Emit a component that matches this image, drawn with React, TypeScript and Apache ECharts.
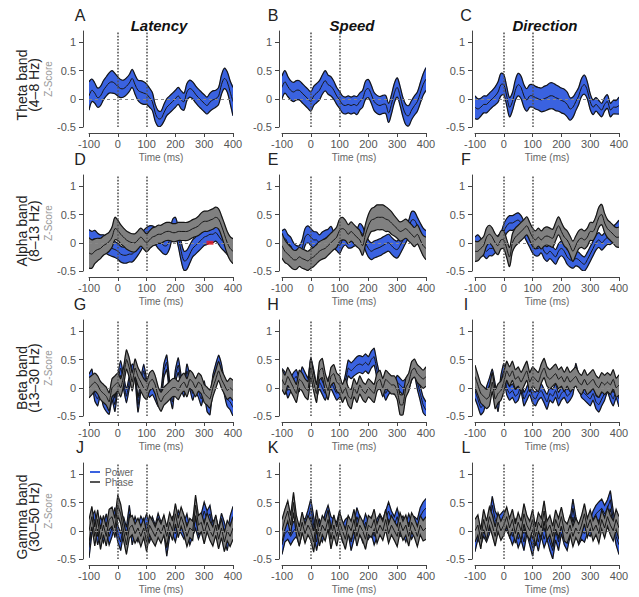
import React, { useEffect, useRef } from "react";
import * as echarts from "echarts";

// ---------- DATA ----------
const timesMs = [
  -100, -90, -80, -70, -60, -50, -40, -30, -20, -10,
  0, 10, 20, 30, 40, 50, 60, 70, 80, 90,
  100, 110, 120, 130, 140, 150, 160, 170, 180, 190,
  200, 210, 220, 230, 240, 250, 260, 270, 280, 290,
  300, 310, 320, 330, 340, 350, 360, 370, 380, 390,
  400,
];

// Theta band – power only
const thetaLatencyPowerMean = [
  0.05, 0.15, 0.1, 0.02, 0.05, 0.15, 0.22, 0.28, 0.3, 0.27,
  0.22, 0.18, 0.18, 0.22, 0.28, 0.36, 0.25, 0.15, 0.12, 0.1,
  0.08, 0.02, -0.05, -0.25, -0.35, -0.35, -0.25, -0.15, -0.1, -0.05,
  0.0, 0.05, -0.02, -0.05, 0.12, 0.18, 0.15, 0.08, 0.02, -0.03,
  -0.08, -0.12, -0.06, -0.02, 0.0, 0.05, 0.25, 0.36, 0.3, 0.12,
  -0.05,
];
const thetaLatencyPowerHalf = [
  0.25, 0.2, 0.18, 0.17, 0.17, 0.17, 0.17, 0.18, 0.2, 0.18,
  0.17, 0.16, 0.15, 0.15, 0.15, 0.16, 0.17, 0.18, 0.2, 0.2,
  0.18, 0.17, 0.16, 0.15, 0.14, 0.13, 0.15, 0.15, 0.15, 0.15,
  0.15, 0.15, 0.16, 0.15, 0.15, 0.15, 0.15, 0.15, 0.15, 0.15,
  0.15, 0.15, 0.16, 0.16, 0.15, 0.15, 0.17, 0.18, 0.18, 0.2,
  0.25,
];
const thetaSpeedPowerMean = [
  0.2, 0.3, 0.22, 0.15, 0.12, 0.15, 0.15, 0.1, 0.05, 0.0,
  -0.05, 0.05, 0.1, 0.15, 0.25, 0.32, 0.25, 0.22, 0.15, 0.05,
  -0.02, -0.1, -0.12, -0.1, -0.12, -0.1, -0.12, -0.05, 0.0, 0.15,
  0.18, 0.08, -0.05, -0.1, -0.12, -0.1, -0.1, -0.25, -0.1, 0.1,
  0.2, 0.05, -0.15, -0.28, -0.3, -0.2, -0.12, -0.05, 0.1, 0.25,
  0.35,
];
const thetaSpeedPowerHalf = [
  0.2, 0.2, 0.18, 0.17, 0.17, 0.17, 0.17, 0.17, 0.17, 0.17,
  0.17, 0.17, 0.17, 0.17, 0.17, 0.18, 0.17, 0.17, 0.16, 0.15,
  0.15, 0.15, 0.15, 0.15, 0.15, 0.15, 0.16, 0.15, 0.15, 0.16,
  0.16, 0.16, 0.16, 0.16, 0.16, 0.16, 0.16, 0.17, 0.17, 0.17,
  0.17, 0.17, 0.17, 0.18, 0.18, 0.17, 0.17, 0.17, 0.18, 0.19,
  0.2,
];
const thetaDirectionPowerMean = [
  -0.15, -0.18, -0.15, -0.1, -0.1, -0.05, 0.0, 0.05, 0.12, 0.25,
  0.25, 0.05, -0.15, -0.05, 0.15, 0.25, 0.2, 0.05, -0.02, 0.05,
  0.05, 0.02, 0.0, -0.02, 0.0, 0.02, 0.05, 0.05, 0.02, 0.0,
  -0.03, -0.05, -0.1, -0.18, -0.15, -0.05, 0.05, 0.2, 0.25, 0.15,
  -0.05, -0.15, -0.1, -0.15, -0.2, -0.1, -0.05, -0.2, -0.15, -0.15,
  -0.12,
];
const thetaDirectionPowerHalf = [
  0.2, 0.18, 0.16, 0.15, 0.15, 0.15, 0.15, 0.16, 0.18, 0.2,
  0.18, 0.17, 0.17, 0.16, 0.18, 0.2, 0.2, 0.2, 0.2, 0.2,
  0.2, 0.2, 0.2, 0.21, 0.22, 0.22, 0.23, 0.23, 0.23, 0.22,
  0.22, 0.22, 0.22, 0.2, 0.18, 0.16, 0.15, 0.16, 0.17, 0.15,
  0.14, 0.13, 0.12, 0.12, 0.12, 0.12, 0.12, 0.12, 0.12, 0.12,
  0.15,
];

// Alpha band
const alphaLatencyPowerMean = [
  0.07, 0.05, 0.07, 0.03, 0.0, 0.0, -0.05, -0.08, -0.1, -0.12,
  -0.15, -0.2, -0.22, -0.22, -0.2, -0.2, -0.15, -0.08, 0.0, 0.08,
  0.12, 0.15, 0.15, 0.12, 0.05, 0.0, -0.05, -0.05, 0.05, 0.25,
  0.28, 0.1, -0.15, -0.32, -0.3, -0.2, -0.1, -0.05, 0.0, 0.05,
  0.1, 0.12, 0.15, 0.15, 0.18, 0.12, 0.05, 0.0, -0.05, -0.1,
  -0.15,
];
const alphaLatencyPowerHalf = [
  0.16, 0.15, 0.15, 0.14, 0.14, 0.14, 0.14, 0.14, 0.14, 0.14,
  0.14, 0.14, 0.14, 0.14, 0.14, 0.14, 0.14, 0.14, 0.14, 0.14,
  0.15, 0.15, 0.15, 0.15, 0.15, 0.15, 0.15, 0.15, 0.15, 0.16,
  0.17, 0.17, 0.17, 0.17, 0.17, 0.16, 0.15, 0.15, 0.15, 0.15,
  0.15, 0.15, 0.15, 0.15, 0.15, 0.15, 0.15, 0.15, 0.16, 0.17,
  0.18,
];
const alphaLatencyPhaseMean = [
  -0.18, -0.2, -0.15, -0.12, -0.1, -0.05, -0.02, 0.02, 0.1, 0.25,
  0.22, 0.15, 0.1, 0.05, 0.02, 0.0, 0.0, 0.05, 0.1, 0.05,
  0.0, 0.05, 0.1, 0.12, 0.15, 0.15, 0.18, 0.2, 0.2, 0.18,
  0.18, 0.2, 0.2, 0.2, 0.2, 0.22, 0.25, 0.27, 0.3, 0.35,
  0.38, 0.38, 0.4, 0.42, 0.45, 0.42, 0.3, 0.15, 0.0, -0.1,
  -0.15,
];
const alphaLatencyPhaseHalf = [
  0.27, 0.25, 0.22, 0.2, 0.18, 0.17, 0.17, 0.17, 0.18, 0.2,
  0.18, 0.17, 0.16, 0.16, 0.16, 0.16, 0.16, 0.16, 0.16, 0.16,
  0.16, 0.16, 0.16, 0.16, 0.16, 0.16, 0.16, 0.16, 0.16, 0.16,
  0.16, 0.16, 0.16, 0.16, 0.16, 0.16, 0.16, 0.16, 0.17, 0.18,
  0.18, 0.18, 0.18, 0.18, 0.18, 0.18, 0.18, 0.19, 0.2, 0.21,
  0.22,
];
const alphaSpeedPowerMean = [
  0.05, 0.08, 0.0, -0.05, -0.15, -0.2, -0.2, -0.1, 0.1, 0.15,
  0.1, 0.05, 0.05, 0.0, 0.05, 0.08, 0.1, 0.15, 0.05, 0.0,
  -0.05, 0.05, 0.1, 0.05, 0.05, 0.08, 0.1, 0.2, 0.15, 0.0,
  -0.1, -0.15, -0.12, -0.1, -0.08, -0.05, -0.02, 0.0, -0.05, -0.1,
  -0.12, -0.05, 0.05, 0.15, 0.25, 0.4, 0.4, 0.3, 0.2, 0.1,
  0.05,
];
const alphaSpeedPowerHalf = [
  0.16, 0.16, 0.15, 0.15, 0.15, 0.15, 0.15, 0.15, 0.15, 0.15,
  0.15, 0.15, 0.14, 0.14, 0.14, 0.14, 0.14, 0.14, 0.14, 0.14,
  0.14, 0.14, 0.14, 0.14, 0.14, 0.14, 0.14, 0.14, 0.14, 0.14,
  0.15, 0.15, 0.15, 0.15, 0.15, 0.15, 0.15, 0.15, 0.15, 0.15,
  0.15, 0.15, 0.15, 0.15, 0.15, 0.15, 0.15, 0.15, 0.15, 0.16,
  0.16,
];
const alphaSpeedPhaseMean = [
  -0.05, -0.15, -0.2, -0.25, -0.3, -0.3, -0.25, -0.28, -0.3, -0.32,
  -0.28, -0.25, -0.2, -0.15, -0.12, -0.1, -0.05, 0.0, 0.05, 0.1,
  0.22, 0.25, 0.22, 0.15, 0.2, 0.15, 0.1, 0.05, -0.05, 0.15,
  0.3, 0.4, 0.42, 0.45, 0.45, 0.45, 0.42, 0.4, 0.35, 0.3,
  0.25, 0.2, 0.22, 0.25, 0.2, 0.15, 0.1, 0.15, 0.05, -0.05,
  -0.1,
];
const alphaSpeedPhaseHalf = [
  0.22, 0.2, 0.18, 0.18, 0.17, 0.17, 0.17, 0.17, 0.17, 0.17,
  0.17, 0.17, 0.17, 0.17, 0.17, 0.17, 0.17, 0.17, 0.17, 0.18,
  0.2, 0.2, 0.18, 0.17, 0.17, 0.17, 0.17, 0.17, 0.17, 0.18,
  0.2, 0.2, 0.21, 0.22, 0.22, 0.22, 0.22, 0.2, 0.2, 0.18,
  0.17, 0.17, 0.17, 0.17, 0.17, 0.17, 0.17, 0.17, 0.17, 0.18,
  0.2,
];
const alphaDirectionPowerMean = [
  -0.05, 0.0, -0.05, -0.1, -0.15, -0.1, -0.1, -0.05, 0.0, 0.05,
  0.2, 0.3, 0.35, 0.35, 0.38, 0.4, 0.35, 0.25, 0.15, 0.05,
  -0.05, -0.1, -0.1, -0.05, -0.15, -0.2, -0.15, -0.2, -0.25, -0.15,
  -0.1, -0.15, -0.25, -0.3, -0.32, -0.28, -0.3, -0.35, -0.38, -0.3,
  -0.2, -0.1, 0.0, 0.05, 0.0, 0.05, 0.1, 0.1, 0.15, 0.2,
  0.25,
];
const alphaDirectionPowerHalf = [
  0.15, 0.14, 0.13, 0.13, 0.13, 0.13, 0.13, 0.13, 0.13, 0.13,
  0.13, 0.13, 0.13, 0.13, 0.13, 0.13, 0.13, 0.13, 0.13, 0.13,
  0.13, 0.13, 0.13, 0.13, 0.13, 0.13, 0.13, 0.13, 0.13, 0.13,
  0.13, 0.13, 0.13, 0.13, 0.13, 0.13, 0.13, 0.13, 0.13, 0.13,
  0.13, 0.13, 0.13, 0.13, 0.13, 0.13, 0.13, 0.13, 0.14, 0.14,
  0.15,
];
const alphaDirectionPhaseMean = [
  -0.15, -0.15, -0.1, -0.05, 0.1, 0.15, 0.1, 0.0, -0.05, 0.05,
  0.05, -0.1, -0.25, 0.0, 0.1, 0.15, 0.2, 0.25, 0.3, 0.2,
  0.1, 0.05, 0.1, 0.05, 0.1, 0.12, 0.1, 0.08, 0.2, 0.3,
  0.2, 0.1, 0.05, -0.05, -0.15, -0.05, 0.05, 0.08, 0.05, 0.1,
  0.2, 0.2, 0.3, 0.45, 0.5, 0.35, 0.25, 0.2, 0.15, 0.1,
  0.1,
];
const alphaDirectionPhaseHalf = [
  0.18, 0.17, 0.16, 0.16, 0.16, 0.16, 0.16, 0.16, 0.16, 0.16,
  0.16, 0.16, 0.17, 0.16, 0.16, 0.16, 0.16, 0.16, 0.16, 0.16,
  0.16, 0.16, 0.16, 0.16, 0.16, 0.16, 0.16, 0.16, 0.16, 0.16,
  0.16, 0.16, 0.16, 0.17, 0.18, 0.17, 0.16, 0.16, 0.16, 0.16,
  0.16, 0.16, 0.17, 0.18, 0.18, 0.17, 0.16, 0.16, 0.16, 0.17,
  0.18,
];

// Beta band
const betaLatencyPowerMean = [
  0.1, 0.2, -0.1, -0.2, 0.0, -0.2, -0.3, -0.35, -0.1, -0.3,
  0.1, 0.35, 0.1, -0.15, 0.1, 0.3, 0.25, -0.3, 0.05, 0.3,
  0.05, -0.05, 0.0, -0.1, -0.2, -0.15, 0.3, 0.45, 0.0, -0.25,
  0.2, 0.4, 0.1, -0.05, 0.3, 0.1, -0.1, 0.05, -0.05, -0.2,
  0.0, -0.3, -0.35, 0.1, 0.3, 0.45, 0.3, 0.0, -0.2, -0.25,
  -0.35,
];
const betaLatencyPowerHalf = [
  0.14, 0.13, 0.13, 0.12, 0.12, 0.13, 0.12, 0.12, 0.11, 0.12,
  0.12, 0.13, 0.12, 0.12, 0.11, 0.12, 0.12, 0.13, 0.12, 0.12,
  0.11, 0.12, 0.12, 0.12, 0.13, 0.12, 0.12, 0.13, 0.12, 0.12,
  0.12, 0.13, 0.12, 0.11, 0.12, 0.12, 0.12, 0.12, 0.12, 0.12,
  0.12, 0.12, 0.13, 0.12, 0.12, 0.13, 0.12, 0.12, 0.13, 0.14,
  0.15,
];
const betaLatencyPhaseMean = [
  0.0, 0.05, 0.1, 0.05, -0.05, -0.1, -0.15, -0.25, 0.0, 0.05,
  0.1, 0.0, 0.2, 0.5, 0.35, 0.1, 0.35, 0.2, 0.1, 0.0,
  -0.05, 0.1, 0.15, 0.05, -0.15, -0.25, -0.15, -0.1, -0.05, 0.0,
  0.0, -0.05, 0.05, 0.1, 0.0, 0.15, 0.1, 0.0, 0.1, 0.05,
  -0.1, -0.15, -0.2, 0.0, 0.15, 0.3, 0.15, 0.05, -0.05, 0.0,
  -0.05,
];
const betaLatencyPhaseHalf = [
  0.18, 0.17, 0.16, 0.16, 0.16, 0.16, 0.16, 0.16, 0.16, 0.16,
  0.16, 0.16, 0.16, 0.17, 0.17, 0.16, 0.16, 0.16, 0.16, 0.16,
  0.16, 0.16, 0.16, 0.16, 0.17, 0.17, 0.16, 0.16, 0.16, 0.16,
  0.16, 0.16, 0.16, 0.16, 0.16, 0.16, 0.16, 0.16, 0.16, 0.16,
  0.16, 0.16, 0.16, 0.16, 0.16, 0.17, 0.16, 0.16, 0.16, 0.17,
  0.18,
];
const betaSpeedPowerMean = [
  0.2, 0.15, -0.05, 0.05, 0.15, 0.2, 0.05, 0.25, 0.15, 0.05,
  0.4, 0.2, -0.05, 0.1, 0.0, -0.1, 0.05, 0.1, 0.0, -0.1,
  -0.05, -0.1, 0.1, 0.35, 0.3, 0.35, 0.4, 0.42, 0.4, 0.45,
  0.4, 0.5, 0.55, 0.3, 0.1, 0.05, -0.1, 0.0, 0.05, 0.0,
  0.1, 0.05, 0.0, 0.05, 0.1, 0.25, 0.35, 0.1, -0.1, -0.3,
  -0.4,
];
const betaSpeedPowerHalf = [
  0.14, 0.13, 0.13, 0.12, 0.12, 0.12, 0.12, 0.12, 0.12, 0.12,
  0.13, 0.12, 0.12, 0.12, 0.12, 0.12, 0.12, 0.12, 0.12, 0.12,
  0.12, 0.12, 0.13, 0.14, 0.14, 0.14, 0.15, 0.15, 0.15, 0.15,
  0.15, 0.15, 0.15, 0.14, 0.13, 0.12, 0.12, 0.12, 0.12, 0.12,
  0.12, 0.12, 0.12, 0.12, 0.12, 0.12, 0.13, 0.13, 0.13, 0.14,
  0.15,
];
const betaSpeedPhaseMean = [
  0.15, 0.05, 0.2, 0.1, 0.0, -0.1, 0.15, 0.1, 0.0, -0.05,
  0.35, 0.1, -0.1, 0.3, 0.35, 0.1, -0.05, 0.2, 0.25, 0.1,
  0.05, -0.1, 0.0, -0.15, -0.2, 0.0, -0.1, 0.05, -0.05, -0.1,
  0.0, -0.05, -0.1, 0.1, 0.15, 0.0, 0.15, 0.1, 0.05, 0.05,
  -0.05, -0.3, -0.3, 0.0, 0.1, 0.3, 0.35, 0.25, 0.2, 0.15,
  0.2,
];
const betaSpeedPhaseHalf = [
  0.18, 0.17, 0.16, 0.16, 0.16, 0.16, 0.16, 0.16, 0.16, 0.16,
  0.17, 0.16, 0.16, 0.16, 0.17, 0.16, 0.16, 0.16, 0.16, 0.16,
  0.16, 0.16, 0.16, 0.16, 0.17, 0.16, 0.16, 0.16, 0.16, 0.16,
  0.16, 0.16, 0.16, 0.16, 0.16, 0.16, 0.16, 0.16, 0.16, 0.16,
  0.16, 0.18, 0.18, 0.17, 0.16, 0.16, 0.16, 0.16, 0.16, 0.16,
  0.17,
];
const betaDirectionPowerMean = [
  -0.05, -0.2, -0.35, -0.3, -0.1, 0.05, 0.2, -0.05, -0.3, 0.1,
  0.3, 0.0, -0.1, -0.05, -0.15, -0.1, 0.05, -0.2, -0.1, 0.0,
  -0.15, -0.2, -0.1, -0.05, -0.15, -0.25, -0.1, -0.15, -0.05, -0.2,
  -0.1, -0.05, -0.15, -0.1, 0.0, 0.3, 0.1, -0.05, -0.1, -0.15,
  -0.2, -0.1, -0.25, -0.3, -0.2, -0.1, 0.05, -0.1, -0.2, -0.05,
  -0.2,
];
const betaDirectionPowerHalf = [
  0.14, 0.13, 0.13, 0.12, 0.12, 0.12, 0.13, 0.12, 0.12, 0.12,
  0.13, 0.12, 0.12, 0.12, 0.12, 0.12, 0.12, 0.12, 0.12, 0.12,
  0.12, 0.12, 0.12, 0.12, 0.12, 0.13, 0.12, 0.12, 0.12, 0.12,
  0.12, 0.12, 0.12, 0.12, 0.12, 0.13, 0.12, 0.12, 0.12, 0.12,
  0.12, 0.12, 0.12, 0.13, 0.12, 0.12, 0.12, 0.12, 0.12, 0.13,
  0.14,
];
const betaDirectionPhaseMean = [
  0.2, 0.05, -0.1, -0.15, -0.2, -0.15, 0.1, -0.2, -0.1, -0.05,
  0.1, 0.3, 0.2, 0.3, 0.15, 0.2, 0.1, 0.2, 0.3, 0.1,
  0.2, 0.15, 0.1, 0.25, 0.35, 0.2, 0.15, 0.2, 0.25, 0.15,
  0.2, 0.1, 0.2, 0.1, 0.15, 0.2, 0.1, 0.05, 0.15, 0.05,
  0.1, 0.15, 0.05, 0.0, 0.1, 0.05, 0.1, 0.05, 0.15, 0.0,
  0.05,
];
const betaDirectionPhaseHalf = [
  0.2, 0.18, 0.17, 0.17, 0.17, 0.17, 0.17, 0.17, 0.17, 0.17,
  0.17, 0.17, 0.17, 0.17, 0.17, 0.17, 0.17, 0.17, 0.17, 0.17,
  0.17, 0.17, 0.17, 0.17, 0.17, 0.17, 0.17, 0.17, 0.17, 0.17,
  0.17, 0.17, 0.17, 0.17, 0.17, 0.17, 0.17, 0.17, 0.17, 0.17,
  0.17, 0.17, 0.17, 0.17, 0.17, 0.17, 0.17, 0.17, 0.17, 0.17,
  0.18,
];

// Gamma band
const gammaLatencyPowerMean = [
  -0.3, 0.1, 0.2, -0.1, 0.1, -0.05, 0.15, -0.1, 0.05, 0.25,
  -0.05, -0.2, 0.1, -0.1, 0.3, -0.1, 0.1, -0.05, 0.1, 0.0,
  0.15, -0.05, 0.1, -0.05, 0.15, 0.0, 0.1, -0.3, 0.05, 0.1,
  -0.05, 0.2, 0.1, 0.0, 0.15, -0.1, 0.05, 0.2, 0.0, 0.15,
  0.35, 0.2, 0.3, 0.0, 0.1, -0.1, 0.15, 0.0, -0.2, 0.1,
  0.25,
];
const gammaLatencyPowerHalf = [
  0.18, 0.16, 0.15, 0.15, 0.15, 0.16, 0.15, 0.15, 0.15, 0.16,
  0.15, 0.15, 0.15, 0.16, 0.15, 0.15, 0.15, 0.15, 0.16, 0.15,
  0.15, 0.15, 0.15, 0.15, 0.16, 0.15, 0.15, 0.15, 0.15, 0.15,
  0.15, 0.16, 0.15, 0.15, 0.15, 0.15, 0.15, 0.16, 0.15, 0.15,
  0.16, 0.15, 0.15, 0.15, 0.15, 0.15, 0.16, 0.15, 0.15, 0.16,
  0.18,
];
const gammaLatencyPhaseMean = [
  0.0, 0.25, -0.1, 0.2, -0.15, 0.1, -0.1, 0.2, 0.25, 0.05,
  0.45, 0.3, 0.0, -0.25, 0.05, 0.1, -0.05, 0.05, -0.1, 0.05,
  -0.2, 0.1, 0.0, -0.1, 0.05, -0.05, 0.1, -0.1, 0.15, 0.0,
  0.3, 0.05, 0.25, 0.1, -0.1, 0.05, 0.0, 0.45, 0.1, 0.15,
  -0.05, 0.15, 0.0, -0.1, 0.1, -0.15, 0.05, -0.2, 0.0, -0.1,
  0.05,
];
const gammaLatencyPhaseHalf = [
  0.2, 0.18, 0.17, 0.17, 0.18, 0.17, 0.17, 0.18, 0.17, 0.17,
  0.18, 0.17, 0.17, 0.17, 0.18, 0.17, 0.17, 0.17, 0.18, 0.17,
  0.17, 0.17, 0.18, 0.17, 0.17, 0.17, 0.18, 0.17, 0.17, 0.17,
  0.18, 0.17, 0.17, 0.17, 0.18, 0.17, 0.17, 0.18, 0.17, 0.17,
  0.18, 0.17, 0.17, 0.17, 0.18, 0.17, 0.17, 0.17, 0.18, 0.18,
  0.2,
];
const gammaSpeedPowerMean = [
  -0.25, -0.05, 0.0, -0.1, 0.0, 0.05, -0.1, 0.1, 0.05, 0.2,
  0.4, 0.1, -0.2, 0.05, -0.05, 0.15, 0.3, 0.1, 0.05, 0.0,
  0.2, -0.05, 0.05, 0.1, -0.2, 0.0, 0.25, 0.1, -0.05, 0.15,
  0.0, 0.1, -0.1, 0.05, 0.15, 0.05, 0.2, 0.35, 0.2, 0.1,
  0.25, 0.05, 0.1, -0.05, 0.15, 0.0, 0.1, 0.05, 0.25, 0.35,
  0.4,
];
const gammaSpeedPowerHalf = [
  0.17, 0.15, 0.15, 0.15, 0.16, 0.15, 0.15, 0.15, 0.15, 0.16,
  0.16, 0.15, 0.15, 0.15, 0.15, 0.16, 0.15, 0.15, 0.15, 0.15,
  0.16, 0.15, 0.15, 0.15, 0.15, 0.15, 0.16, 0.15, 0.15, 0.15,
  0.15, 0.15, 0.15, 0.16, 0.15, 0.15, 0.15, 0.16, 0.15, 0.15,
  0.15, 0.15, 0.16, 0.15, 0.15, 0.15, 0.15, 0.15, 0.16, 0.16,
  0.17,
];
const gammaSpeedPhaseMean = [
  0.0, 0.2, 0.35, 0.1, 0.5, 0.1, -0.1, 0.15, -0.05, 0.1,
  0.0, -0.2, 0.2, -0.1, 0.1, 0.0, 0.2, -0.15, 0.1, -0.1,
  0.15, 0.0, -0.15, 0.1, 0.0, 0.2, -0.1, 0.1, 0.0, -0.15,
  0.1, 0.05, 0.2, -0.05, 0.1, 0.0, 0.2, -0.05, 0.1, 0.0,
  -0.1, 0.15, 0.0, 0.1, -0.1, 0.15, 0.05, -0.1, 0.1, 0.0,
  0.05,
];
const gammaSpeedPhaseHalf = [
  0.2, 0.18, 0.18, 0.17, 0.18, 0.17, 0.17, 0.18, 0.17, 0.17,
  0.17, 0.18, 0.17, 0.17, 0.17, 0.18, 0.17, 0.17, 0.18, 0.17,
  0.17, 0.17, 0.18, 0.17, 0.17, 0.18, 0.17, 0.17, 0.17, 0.18,
  0.17, 0.17, 0.18, 0.17, 0.17, 0.17, 0.18, 0.17, 0.17, 0.17,
  0.18, 0.17, 0.17, 0.18, 0.17, 0.17, 0.17, 0.18, 0.17, 0.18,
  0.2,
];
const gammaDirectionPowerMean = [
  -0.2, 0.0, -0.1, 0.05, -0.05, 0.1, 0.45, 0.2, 0.1, 0.15,
  0.2, 0.15, 0.05, -0.1, 0.05, -0.15, 0.0, -0.2, 0.1, -0.1,
  -0.3, 0.0, -0.2, 0.05, -0.15, 0.0, -0.2, -0.35, 0.0, -0.2,
  0.1, -0.1, -0.2, 0.05, 0.4, 0.1, -0.1, 0.0, -0.05, 0.1,
  0.05, 0.2, 0.3, 0.35, 0.4, 0.3, 0.4, 0.55, 0.2, -0.1,
  -0.25,
];
const gammaDirectionPowerHalf = [
  0.17, 0.15, 0.15, 0.15, 0.15, 0.16, 0.16, 0.15, 0.15, 0.15,
  0.16, 0.15, 0.15, 0.15, 0.15, 0.15, 0.16, 0.15, 0.15, 0.15,
  0.15, 0.15, 0.16, 0.15, 0.15, 0.15, 0.15, 0.15, 0.16, 0.15,
  0.15, 0.15, 0.15, 0.15, 0.16, 0.15, 0.15, 0.15, 0.15, 0.15,
  0.15, 0.15, 0.15, 0.16, 0.16, 0.15, 0.15, 0.16, 0.15, 0.15,
  0.17,
];
const gammaDirectionPhaseMean = [
  0.0, 0.1, -0.15, 0.2, 0.0, 0.25, 0.1, -0.1, 0.15, 0.0,
  0.1, 0.25, 0.05, 0.2, -0.05, 0.15, 0.0, 0.3, 0.1, 0.0,
  0.2, -0.1, 0.15, 0.05, 0.35, 0.0, 0.1, -0.1, 0.2, 0.05,
  0.25, 0.0, -0.05, 0.1, -0.1, 0.05, -0.05, 0.1, 0.3, 0.05,
  0.2, 0.0, 0.1, -0.05, 0.2, 0.05, 0.25, 0.1, 0.0, 0.2,
  0.05,
];
const gammaDirectionPhaseHalf = [
  0.2, 0.18, 0.17, 0.18, 0.17, 0.17, 0.18, 0.17, 0.17, 0.17,
  0.18, 0.17, 0.17, 0.18, 0.17, 0.17, 0.17, 0.18, 0.17, 0.17,
  0.18, 0.17, 0.17, 0.17, 0.18, 0.17, 0.17, 0.18, 0.17, 0.17,
  0.17, 0.18, 0.17, 0.17, 0.18, 0.17, 0.17, 0.17, 0.18, 0.17,
  0.17, 0.18, 0.17, 0.17, 0.17, 0.18, 0.17, 0.17, 0.18, 0.18,
  0.2,
];

const columnTitles = ["Latency", "Speed", "Direction"];
const rowLabels = [
  "Theta band\n(4–8 Hz)",
  "Alpha band\n(8–13 Hz)",
  "Beta band\n(13–30 Hz)",
  "Gamma band\n(30–50 Hz)",
];
const panelLetters = ["A", "B", "C", "D", "E", "F", "G", "H", "I", "J", "K", "L"];
const xTickInterval = 100;
const yTickValues = [-0.5, 0, 0.5, 1];
const eventTimesMs = [0, 100];
const alphaLatencySigTimesMs = [320];

// ---------- LAYOUT / STYLE ----------
const FONT = "'Liberation Sans', Arial, sans-serif";
const BLUE = "#3a62e0";
const GRAY = "#808080";
const EDGE = "#151515";
const Y_MIN = -0.5;
const Y_MAX = 1.2;
const GRID_LEFT = [89, 282, 475];
const GRID_TOP = [31, 175, 320, 463];
const GRID_W = 144;
const GRID_H = 96;
const Y_OFFSET = [6, 3, 3];
const ROW_SMOOTH = [0.35, 0.35, 0.15, 0];
const ROW_LABEL_Y = [85, 231, 378, 517];

type Band = { mean: number[]; half: number[] };
const panelData: { power: Band; phase: Band | null }[] = [
  { power: { mean: thetaLatencyPowerMean, half: thetaLatencyPowerHalf }, phase: null },
  { power: { mean: thetaSpeedPowerMean, half: thetaSpeedPowerHalf }, phase: null },
  { power: { mean: thetaDirectionPowerMean, half: thetaDirectionPowerHalf }, phase: null },
  { power: { mean: alphaLatencyPowerMean, half: alphaLatencyPowerHalf }, phase: { mean: alphaLatencyPhaseMean, half: alphaLatencyPhaseHalf } },
  { power: { mean: alphaSpeedPowerMean, half: alphaSpeedPowerHalf }, phase: { mean: alphaSpeedPhaseMean, half: alphaSpeedPhaseHalf } },
  { power: { mean: alphaDirectionPowerMean, half: alphaDirectionPowerHalf }, phase: { mean: alphaDirectionPhaseMean, half: alphaDirectionPhaseHalf } },
  { power: { mean: betaLatencyPowerMean, half: betaLatencyPowerHalf }, phase: { mean: betaLatencyPhaseMean, half: betaLatencyPhaseHalf } },
  { power: { mean: betaSpeedPowerMean, half: betaSpeedPowerHalf }, phase: { mean: betaSpeedPhaseMean, half: betaSpeedPhaseHalf } },
  { power: { mean: betaDirectionPowerMean, half: betaDirectionPowerHalf }, phase: { mean: betaDirectionPhaseMean, half: betaDirectionPhaseHalf } },
  { power: { mean: gammaLatencyPowerMean, half: gammaLatencyPowerHalf }, phase: { mean: gammaLatencyPhaseMean, half: gammaLatencyPhaseHalf } },
  { power: { mean: gammaSpeedPowerMean, half: gammaSpeedPowerHalf }, phase: { mean: gammaSpeedPhaseMean, half: gammaSpeedPhaseHalf } },
  { power: { mean: gammaDirectionPowerMean, half: gammaDirectionPowerHalf }, phase: { mean: gammaDirectionPhaseMean, half: gammaDirectionPhaseHalf } },
];

const clampY = (v: number) => Math.min(Y_MAX, Math.max(Y_MIN, v));

function bandSeries(gi: number, band: Band, color: string, name: string, smooth: number) {
  const lo = band.mean.map((m, i) => clampY(m - band.half[i]));
  const hi = band.mean.map((m, i) => clampY(m + band.half[i]));
  const mid = band.mean.map((m) => clampY(m));
  return {
    type: "custom",
    name,
    coordinateSystem: "cartesian2d",
    xAxisIndex: gi,
    yAxisIndex: gi,
    clip: true,
    silent: true,
    z: 2,
    itemStyle: { color },
    encode: { x: 0, y: [1, 2, 3] },
    data: timesMs.map((t, i) => [t, lo[i], hi[i], mid[i]]),
    renderItem: (params: any, api: any) => {
      if (params.dataIndex !== 0) return null;
      const loPts = timesMs.map((t, i) => api.coord([t, lo[i]]));
      const hiPts = timesMs.map((t, i) => api.coord([t, hi[i]]));
      const midPts = timesMs.map((t, i) => api.coord([t, mid[i]]));
      const polyPts = loPts.concat(hiPts.slice().reverse());
      return {
        type: "group",
        children: [
          {
            type: "polygon",
            shape: { points: polyPts, smooth },
            style: { fill: color, stroke: color, lineWidth: 0.5 },
          },
          {
            type: "polyline",
            shape: { points: loPts, smooth },
            style: { fill: "none", stroke: EDGE, lineWidth: 1.2 },
          },
          {
            type: "polyline",
            shape: { points: hiPts, smooth },
            style: { fill: "none", stroke: EDGE, lineWidth: 1.2 },
          },
          {
            type: "polyline",
            shape: { points: midPts, smooth },
            style: { fill: "none", stroke: EDGE, lineWidth: 1 },
          },
        ],
      };
    },
  };
}

function buildOption() {
  const grid: any[] = [];
  const xAxis: any[] = [];
  const yAxis: any[] = [];
  const series: any[] = [];
  const graphic: any[] = [];

  panelData.forEach((p, gi) => {
    const row = Math.floor(gi / 3);
    const col = gi % 3;
    grid.push({ left: GRID_LEFT[col], top: GRID_TOP[row], width: GRID_W, height: GRID_H });
    xAxis.push({
      type: "value",
      gridIndex: gi,
      min: -100,
      max: 400,
      interval: xTickInterval,
      position: "bottom",
      offset: 6,
      axisLine: { show: true, onZero: false, lineStyle: { color: "#444", width: 1 } },
      axisTick: { show: true, length: 4, lineStyle: { color: "#444" } },
      axisLabel: { fontSize: 11, color: "#555", margin: 5, fontFamily: FONT },
      splitLine: { show: false },
      name: "Time (ms)",
      nameLocation: "middle",
      nameGap: 19,
      nameTextStyle: { fontSize: 10, color: "#666", fontFamily: FONT },
    });
    yAxis.push({
      type: "value",
      gridIndex: gi,
      min: Y_MIN,
      max: Y_MAX,
      position: "left",
      offset: Y_OFFSET[col],
      axisLine: { show: true, onZero: false, lineStyle: { color: "#444", width: 1 } },
      axisTick: { show: true, length: 4, customValues: yTickValues, lineStyle: { color: "#444" } },
      axisLabel: { customValues: yTickValues, fontSize: 11, color: "#555", margin: 7, fontFamily: FONT },
      splitLine: { show: false },
      name: col === 0 ? "Z-Score" : "",
      nameLocation: "middle",
      nameGap: 27,
      nameRotate: 90,
      nameTextStyle: { fontSize: 10, color: "#999", fontFamily: FONT },
    });

    const smooth = ROW_SMOOTH[row];
    series.push(bandSeries(gi, p.power, BLUE, "Power", smooth));
    if (p.phase) series.push(bandSeries(gi, p.phase, GRAY, "Phase", smooth));

    series.push({
      type: "line",
      name: `refs-${gi}`,
      xAxisIndex: gi,
      yAxisIndex: gi,
      data: [],
      silent: true,
      z: 5,
      markLine: {
        silent: true,
        symbol: ["none", "none"],
        label: { show: false },
        animation: false,
        data: [
          ...eventTimesMs.map((t) => ({ xAxis: t, lineStyle: { type: "dotted", color: "#555", width: 1.6 } })),
          { yAxis: 0, lineStyle: { type: [3, 3], color: "#888", width: 1 } },
        ],
      },
    });

    graphic.push({
      type: "text",
      x: GRID_LEFT[col] - 9,
      y: GRID_TOP[row] - 16,
      style: {
        text: panelLetters[gi],
        fontSize: 16,
        fill: "#222",
        fontFamily: FONT,
        textAlign: "center",
        textVerticalAlign: "middle",
      },
    });
  });

  series.push({
    type: "scatter",
    name: "sig-D",
    xAxisIndex: 3,
    yAxisIndex: 3,
    symbol: "rect",
    symbolSize: [7, 4],
    z: 6,
    silent: true,
    itemStyle: { color: "#ee1c25" },
    data: alphaLatencySigTimesMs.map((t) => [t, 0]),
  });

  columnTitles.forEach((t, c) => {
    graphic.push({
      type: "text",
      x: GRID_LEFT[c] + 70,
      y: 25,
      style: {
        text: t,
        fontSize: 15,
        fontWeight: "bold",
        fontStyle: "italic",
        fill: "#111",
        fontFamily: FONT,
        textAlign: "center",
        textVerticalAlign: "middle",
      },
    });
  });

  rowLabels.forEach((t, r) => {
    graphic.push({
      type: "text",
      x: 28,
      y: ROW_LABEL_Y[r],
      rotation: Math.PI / 2,
      style: {
        text: t,
        fontSize: 14,
        lineHeight: 12,
        fill: "#222",
        fontFamily: FONT,
        textAlign: "center",
        textVerticalAlign: "middle",
      },
    });
  });

  return {
    animation: false,
    backgroundColor: "#ffffff",
    textStyle: { fontFamily: FONT },
    grid,
    xAxis,
    yAxis,
    series,
    graphic,
    legend: {
      show: true,
      left: 90,
      top: 467,
      orient: "vertical",
      itemGap: 0,
      itemWidth: 10,
      itemHeight: 2,
      icon: "rect",
      selectedMode: false,
      padding: 0,
      textStyle: { fontSize: 10, color: "#666", lineHeight: 10, fontFamily: FONT },
      data: [
        { name: "Power", itemStyle: { color: BLUE } },
        { name: "Phase", itemStyle: { color: "#555" } },
      ],
    },
  };
}

export default function App() {
  const ref = useRef<HTMLDivElement>(null);
  useEffect(() => {
    if (!ref.current) return;
    const chart = echarts.init(ref.current, undefined, { renderer: "svg" });
    chart.setOption(buildOption() as any);
    return () => chart.dispose();
  }, []);
  return (
    <div
      ref={ref}
      style={{ position: "fixed", left: 0, top: 0, width: 639, height: 597, background: "#fff" }}
    />
  );
}
